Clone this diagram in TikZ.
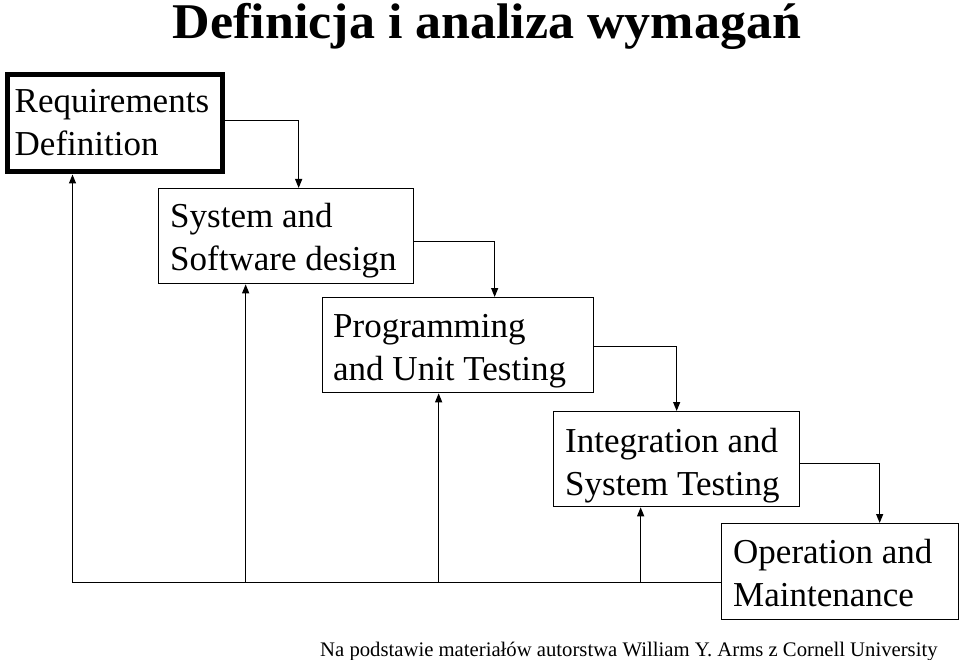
\documentclass[tikz,border=0pt]{standalone}
\usepackage{fontspec}
\setmainfont{Liberation Serif}
\usetikzlibrary{arrows.meta}
\begin{document}
\begin{tikzpicture}[x=1pt,y=-1pt,
  box/.style={draw=black, line width=1.3pt, rectangle, inner sep=0pt, anchor=north west},
  thickbox/.style={box, line width=5pt},
  txt/.style={anchor=base west, inner sep=0pt, font=\fontsize{35}{43}\selectfont},
  conn/.style={draw=black, line width=1.2pt},
  arr/.style={conn, -{Triangle[length=9pt,width=7pt]}},
]
\useasboundingbox (0,0) rectangle (960,660);
% title
\node[anchor=base, inner sep=0pt, font=\fontsize{50}{60}\selectfont\bfseries] (title) at (487,39) {\scalebox{1.04}[1]{Definicja i analiza wymagań}};
% boxes
\node[thickbox, minimum width=215pt, minimum height=97pt] (b1) at (4.5,72.5) {};
\node[box, minimum width=255pt, minimum height=95pt] (b2) at (158,188) {};
\node[box, minimum width=271pt, minimum height=95pt] (b3) at (322,297) {};
\node[box, minimum width=246pt, minimum height=95pt] (b4) at (553,411) {};
\node[box, minimum width=237pt, minimum height=96pt] (b5) at (721,523) {};
% texts
\node[txt] (t1) at ([shift={(10,40.5)}]b1.north west) {\begin{tabular}[t]{@{}l@{}}Requirements\\Definition\end{tabular}};
\node[txt] (t2) at ([shift={(12,40)}]b2.north west) {\begin{tabular}[t]{@{}l@{}}System and\\Software design\end{tabular}};
\node[txt] (t3) at ([shift={(11,40)}]b3.north west) {\begin{tabular}[t]{@{}l@{}}Programming\\and Unit Testing\end{tabular}};
\node[txt] (t4) at ([shift={(12,41)}]b4.north west) {\begin{tabular}[t]{@{}l@{}}Integration and\\System Testing\end{tabular}};
\node[txt] (t5) at ([shift={(12,40)}]b5.north west) {\begin{tabular}[t]{@{}l@{}}Operation and\\Maintenance\end{tabular}};
% forward connectors
\draw[arr] ([shift={(0,-3)}]b1.east) -| ([shift={(12.5,0)}]b2.north);
\draw[arr] ([shift={(0,5.5)}]b2.east) -| ([shift={(36.5,0)}]b3.north);
\draw[arr] ([shift={(0,1.5)}]b3.east) -| (b4.north);
\draw[arr] ([shift={(0,4.5)}]b4.east) -| ([shift={(39.5,0)}]b5.north);
% feedback
\coordinate (bl) at ([shift={(0,11)}]b5.west);
\coordinate (u1) at ([shift={(-42,0)}]b1.south);
\coordinate (u2) at ([shift={(-40.5,0)}]b2.south);
\coordinate (u3) at ([shift={(-19.5,0)}]b3.south);
\coordinate (u4) at ([shift={(-36,0)}]b4.south);
\draw[conn] (bl) -- (u1 |- bl);
\draw[arr] (u1 |- bl) -- (u1);
\draw[arr] (u2 |- bl) -- (u2);
\draw[arr] (u3 |- bl) -- (u3);
\draw[arr] (u4 |- bl) -- (u4);
% footer
\node[anchor=base west, inner sep=0pt, font=\fontsize{20.7}{24}\selectfont] (foot) at (320,656) {Na podstawie materiałów autorstwa William Y. Arms z Cornell University};
\end{tikzpicture}
\end{document}
